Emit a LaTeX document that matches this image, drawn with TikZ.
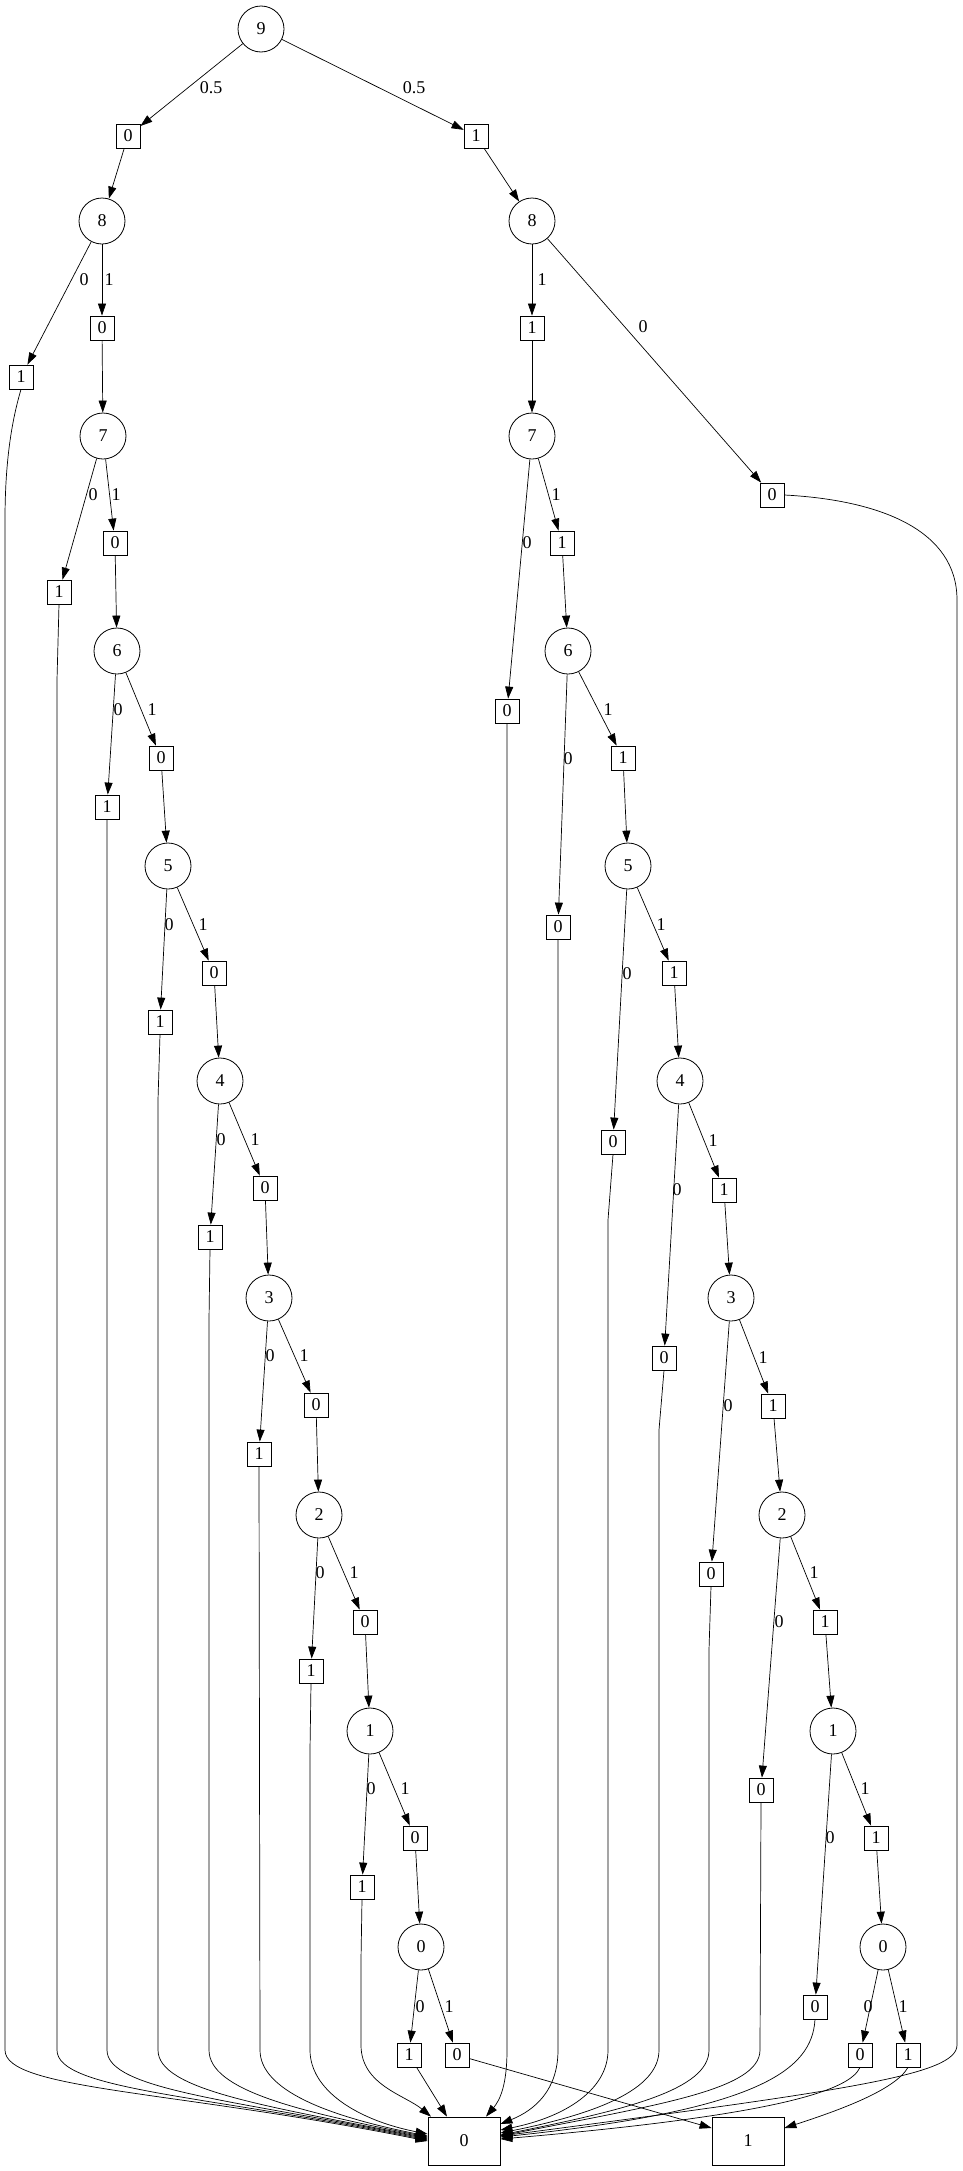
\documentclass[tikz,border=0pt]{standalone}
\usepackage{fontspec}
\setmainfont{Liberation Serif}
\usetikzlibrary{arrows.meta}
\begin{document}
\begin{tikzpicture}[x=1pt,y=-1pt,
  every node/.style={font=\fontsize{18}{20}\selectfont},
  vnode/.style={circle,draw,line width=0.8pt,minimum size=46pt,inner sep=0pt},
  bnode/.style={rectangle,draw,line width=0.8pt,minimum width=24pt,minimum height=24pt,inner sep=0pt},
  tnode/.style={rectangle,draw,line width=0.8pt,minimum width=72pt,minimum height=48pt,inner sep=0pt},
  lbl/.style={inner sep=0pt},
  arr/.style={line width=0.7pt,-{Triangle[length=12pt,width=8pt]}},
]
\useasboundingbox (0,0) rectangle (963,2171);
% top
\node[vnode] (N9) at (261,29) {9};
\node[bnode] (A0) at (128,136) {0};
\node[bnode] (A1) at (476,136) {1};
% left chain circles
\foreach \k/\x/\y in {8/102/221,7/103/436,6/117/651,5/168/866,4/220/1081,3/269/1298,2/319/1515,1/370/1731,0/421/1947}
  \node[vnode] (L\k) at (\x,\y) {\k};
% left 1-edge boxes (label 0)
\foreach \k/\x/\y in {8/102/328,7/115/543,6/161/758,5/214/973,4/265/1188,3/316/1405,2/365/1622,1/415/1838}
  \node[bnode] (Lb\k) at (\x,\y) {0};
% left 0-edge leaves (label 1)
\foreach \k/\x/\y in {8/21/377,7/59/592,6/107/807,5/160/1022,4/210/1237,3/259/1454,2/311/1671,1/362/1887}
  \node[bnode] (Lf\k) at (\x,\y) {1};
\node[bnode] (L0a) at (409,2055) {1};
\node[bnode] (L0b) at (457,2055) {0};
% right chain circles
\foreach \k/\x/\y in {8/532/221,7/532/436,6/568/651,5/628/866,4/680/1081,3/731/1298,2/782/1515,1/833/1731,0/883/1947}
  \node[vnode] (R\k) at (\x,\y) {\k};
% right 1-edge boxes (label 1)
\foreach \k/\x/\y in {8/532/328,7/562/543,6/623/758,5/674/973,4/724/1190,3/773/1406,2/825/1622,1/876/1838}
  \node[bnode] (Rb\k) at (\x,\y) {1};
% right 0-edge leaves (label 0)
\foreach \k/\x/\y in {8/772/495,7/507/711,6/558/927,5/613/1142,4/664/1358,3/711/1574,2/761/1790,1/815/2007}
  \node[bnode] (Rf\k) at (\x,\y) {0};
\node[bnode] (R0a) at (860,2055) {0};
\node[bnode] (R0b) at (908,2055) {1};
% terminals
\node[tnode] (T0) at (464,2141) {0};
\node[tnode] (T1) at (748,2141) {1};
% edge labels
\node[lbl] (e9a) at (211,88) {0.5};
\node[lbl] (e9b) at (414,88) {0.5};
\foreach \k/\xa/\xb/\y in {8/84/109/280,7/93/116/495,6/118/152/710,5/169/203/925,4/221/255/1140,3/270/304/1356,2/320/354/1573,1/371/405/1789,0/420/449/2007}{
  \node[lbl] (la\k) at (\xa,\y) {0};
  \node[lbl] (lb\k) at (\xb,\y) {1};
}
\foreach \k/\xa/\ya/\xb/\yb in {8/542/280/643/327,7/556/495/527/543,6/608/710/568/759,5/661/925/627/974,4/713/1141/677/1190,3/763/1358/728/1406,2/814/1573/779/1622,1/865/1789/830/1838}{
  \node[lbl] (ra\k) at (\xa,\ya) {1};
  \node[lbl] (rb\k) at (\xb,\yb) {0};
}
\node[lbl] (ra0) at (868,2007) {0};
\node[lbl] (rb0) at (903,2007) {1};
% edges top
\draw[arr] (N9) -- (A0);
\draw[arr] (N9) -- (A1);
\draw[arr] (A0) -- (L8);
\draw[arr] (A1) -- (R8);
% chain edges
\foreach \k/\j in {8/7,7/6,6/5,5/4,4/3,3/2,2/1,1/0}{
  \draw[arr] (L\k) -- (Lf\k);
  \draw[arr] (L\k) -- (Lb\k);
  \draw[arr] (Lb\k) -- (L\j);
  \draw[arr] (R\k) -- (Rb\k);
  \draw[arr] (R\k) -- (Rf\k);
  \draw[arr] (Rb\k) -- (R\j);
}
\draw[arr] (L0) -- (L0a);
\draw[arr] (L0) -- (L0b);
\draw[arr] (R0) -- (R0a);
\draw[arr] (R0) -- (R0b);
% left leaves to terminal 0
\draw[arr] (Lf8.south) .. controls (12,420) and (5,460) .. (5,520) -- (5,2050)
  .. controls (5,2090) and (174,2090) .. (T0.west);
\draw[arr] (Lf7.south) -- (57,680) -- (57,2050)
  .. controls (57,2090) and (205,2095) .. ([yshift=1pt]T0.west);
\draw[arr] (Lf6.south) -- (107,2050)
  .. controls (107,2090) and (235,2100) .. ([yshift=2pt]T0.west);
\draw[arr] (Lf5.south) -- (158,1100) -- (158,2050)
  .. controls (158,2090) and (266,2106) .. ([yshift=3pt]T0.west);
\draw[arr] (Lf4.south) -- (209,1320) -- (209,2050)
  .. controls (209,2090) and (297,2111) .. ([yshift=4pt]T0.west);
\draw[arr] (Lf3.south) -- (260,2050)
  .. controls (260,2090) and (327,2116) .. ([yshift=5pt]T0.west);
\draw[arr] (Lf2.south) -- (310,1750) -- (310,2050)
  .. controls (310,2090) and (357,2120) .. ([yshift=7pt]T0.west);
\draw[arr] (Lf1.south) -- (361,1960) -- (361,2045)
  .. controls (361,2085) and (405,2095) .. ([xshift=-33pt]T0.north);
\draw[arr] (L0a) -- ([xshift=-17pt]T0.north);
\draw[arr] (L0b) -- ([yshift=13pt]T1.west);
% right leaves to terminal 0
\draw[arr] (Rf7.south) -- (507,2050)
  .. controls (507,2085) and (500,2100) .. ([xshift=22pt]T0.north);
\draw[arr] (Rf6.south) -- (558,2050)
  .. controls (558,2090) and (535,2110) .. ([yshift=17pt]T0.east);
\draw[arr] (Rf5.south) -- (608,1220) -- (608,2050)
  .. controls (608,2090) and (565,2117) .. ([yshift=11pt]T0.east);
\draw[arr] (Rf4.south) -- (659,1430) -- (659,2050)
  .. controls (659,2090) and (595,2114) .. ([yshift=8pt]T0.east);
\draw[arr] (Rf3.south) -- (709,1650) -- (709,2050)
  .. controls (709,2090) and (625,2110) .. ([yshift=6pt]T0.east);
\draw[arr] (Rf2.south) -- (760,2050)
  .. controls (760,2090) and (656,2105) .. ([yshift=5pt]T0.east);
\draw[arr] (Rf1.south) .. controls (812,2070) and (760,2110) .. ([yshift=4pt]T0.east);
\draw[arr] (R0a.south) .. controls (850,2090) and (780,2115) .. ([yshift=2pt]T0.east);
\draw[arr] (Rf8.east) .. controls (880,500) and (957,530) .. (957,600) -- (957,2045)
  .. controls (957,2075) and (850,2090) .. ([yshift=5pt]T0.east);
\draw[arr] (R0b.south) .. controls (895,2090) and (840,2110) .. ([yshift=13pt]T1.east);
\end{tikzpicture}
\end{document}
